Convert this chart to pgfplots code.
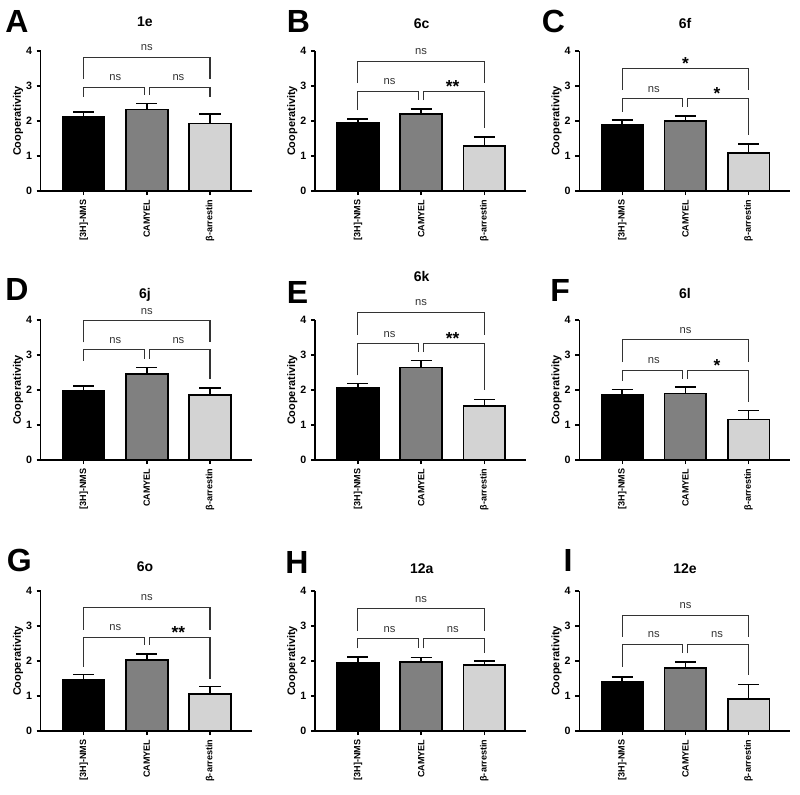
\documentclass[border=0pt]{standalone}
\usepackage{pgfplots}
\pgfplotsset{compat=1.18}
\usepackage{fontspec}
\setmainfont{Liberation Sans}
\definecolor{cgray}{HTML}{808080}
\definecolor{clight}{HTML}{D3D3D3}
\definecolor{brk}{HTML}{333333}
\pgfplotsset{
 panel/.style={width=158.25pt,height=105pt,scale only axis,anchor=south west,
  xmin=0.32,xmax=3.66,ymin=0,ymax=4,
  axis x line*=bottom,axis y line*=left,
  axis line style={line width=1.1pt,black},
  xtick={1,2,3},xticklabels={{[3H]-NMS},{CAMYEL},{β-arrestin}},
  ytick={0,1,2,3,4},
  tick align=outside,major tick length=3pt,
  tick style={line width=1.1pt,black},
  xticklabel style={rotate=90,anchor=east,font=\bfseries\fontsize{6.8}{7}\selectfont},
  yticklabel style={font=\bfseries\fontsize{8}{8}\selectfont},
  /pgf/number format/assume math mode=true,
  ylabel={Cooperativity},
  every axis y label/.style={at={(axis description cs:-0.1075,0.5)},rotate=90,anchor=center,font=\bfseries\fontsize{8.2}{9}\selectfont},
  clip=false},
 bar/.style={ybar,bar width=0.66,draw=black,line width=1.3pt,
  error bars/y dir=plus,error bars/y explicit,
  error bars/error bar style={line width=1.2pt,black},
  error bars/error mark options={rotate=90,mark size=7.9pt,line width=1.2pt,black}},
 bracket/.style={line width=0.8pt,brk,mark=none},
}
\tikzset{
 nslab/.style={anchor=base,yshift=5pt,font=\fontsize{8.4}{9}\selectfont,text=brk},
 astlab/.style={anchor=base,yshift=-0.5pt,font=\bfseries\fontsize{13}{13}\selectfont,text=black},
 ttl/.style={anchor=base,font=\bfseries\fontsize{10.5}{12}\selectfont},
 let/.style={anchor=base west,font=\bfseries\fontsize{24}{26}\selectfont,inner sep=0pt},
}
% T, Tl, L, a, b, d
\newcommand{\brk}[6]{%
 \addplot[bracket] coordinates {(1,#2)(1,#1)(3,#1)(3,#2)};
 \addplot[bracket] coordinates {(1,#4)(1,#3)(1.96,#3)(1.96,#5)};
 \addplot[bracket] coordinates {(2.04,#5)(2.04,#3)(3,#3)(3,#6)};
}
\newcommand{\nsl}[2]{\node[nslab] at (axis cs:#1,#2) {ns};}
\newcommand{\astl}[3]{\node[astlab] at (axis cs:#1,#2) {#3};}
\begin{document}
\begin{tikzpicture}
\path[use as bounding box] (0pt,0pt) rectangle (600pt,-596.25pt);

% A 1e
\begin{axis}[panel,at={(30.525pt,-143.25pt)}]
\addplot[fill=black,bar] coordinates {(1,2.12) +- (0,0.13)};
\addplot[fill=cgray,bar] coordinates {(2,2.33) +- (0,0.17)};
\addplot[fill=clight,bar] coordinates {(3,1.93) +- (0,0.27)};
\brk{3.82}{3.20}{2.96}{2.70}{2.74}{2.70}
\nsl{2}{3.82}\nsl{1.5}{2.96}\nsl{2.5}{2.96}
\end{axis}

% B 6c
\begin{axis}[panel,at={(236.25pt,-143.25pt)}]
\addplot[fill=black,bar] coordinates {(1,1.95) +- (0,0.11)};
\addplot[fill=cgray,bar] coordinates {(2,2.20) +- (0,0.14)};
\addplot[fill=clight,bar] coordinates {(3,1.29) +- (0,0.25)};
\brk{3.71}{3.08}{2.84}{2.31}{2.60}{1.79}
\nsl{2}{3.71}\nsl{1.5}{2.84}\astl{2.5}{2.84}{**}
\end{axis}

% C 6f
\begin{axis}[panel,at={(434.475pt,-143.25pt)}]
\addplot[fill=black,bar] coordinates {(1,1.90) +- (0,0.13)};
\addplot[fill=cgray,bar] coordinates {(2,2.00) +- (0,0.15)};
\addplot[fill=clight,bar] coordinates {(3,1.08) +- (0,0.26)};
\brk{3.49}{2.89}{2.63}{2.27}{2.41}{1.60}
\astl{2}{3.49}{*}\nsl{1.5}{2.63}\astl{2.5}{2.63}{*}
\end{axis}

% D 6j
\begin{axis}[panel,at={(30.525pt,-345pt)}]
\addplot[fill=black,bar] coordinates {(1,1.97) +- (0,0.14)};
\addplot[fill=cgray,bar] coordinates {(2,2.45) +- (0,0.19)};
\addplot[fill=clight,bar] coordinates {(3,1.85) +- (0,0.21)};
\brk{3.98}{3.36}{3.15}{2.84}{2.89}{2.32}
\nsl{2}{3.98}\nsl{1.5}{3.15}\nsl{2.5}{3.15}
\end{axis}

% E 6k
\begin{axis}[panel,at={(236.25pt,-345pt)}]
\addplot[fill=black,bar] coordinates {(1,2.05) +- (0,0.14)};
\addplot[fill=cgray,bar] coordinates {(2,2.64) +- (0,0.20)};
\addplot[fill=clight,bar] coordinates {(3,1.54) +- (0,0.19)};
\brk{4.22}{3.58}{3.32}{2.42}{3.08}{1.99}
\nsl{2}{4.22}\nsl{1.5}{3.32}\astl{2.5}{3.32}{**}
\end{axis}

% F 6l
\begin{axis}[panel,at={(434.475pt,-345pt)}]
\addplot[fill=black,bar] coordinates {(1,1.86) +- (0,0.16)};
\addplot[fill=cgray,bar] coordinates {(2,1.90) +- (0,0.18)};
\addplot[fill=clight,bar] coordinates {(3,1.16) +- (0,0.25)};
\brk{3.43}{2.80}{2.56}{2.27}{2.32}{1.66}
\nsl{2}{3.43}\nsl{1.5}{2.56}\astl{2.5}{2.56}{*}
\end{axis}

% G 6o
\begin{axis}[panel,at={(30.525pt,-548.25pt)}]
\addplot[fill=black,bar] coordinates {(1,1.46) +- (0,0.15)};
\addplot[fill=cgray,bar] coordinates {(2,2.02) +- (0,0.18)};
\addplot[fill=clight,bar] coordinates {(3,1.05) +- (0,0.22)};
\brk{3.53}{2.89}{2.67}{1.84}{2.46}{1.50}
\nsl{2}{3.53}\nsl{1.5}{2.67}\astl{2.5}{2.67}{**}
\end{axis}

% H 12a
\begin{axis}[panel,at={(236.25pt,-548.25pt)}]
\addplot[fill=black,bar] coordinates {(1,1.95) +- (0,0.17)};
\addplot[fill=cgray,bar] coordinates {(2,1.97) +- (0,0.13)};
\addplot[fill=clight,bar] coordinates {(3,1.89) +- (0,0.11)};
\brk{3.49}{2.86}{2.63}{2.36}{2.36}{2.22}
\nsl{2}{3.49}\nsl{1.5}{2.63}\nsl{2.5}{2.63}
\end{axis}

% I 12e
\begin{axis}[panel,at={(434.475pt,-548.25pt)}]
\addplot[fill=black,bar] coordinates {(1,1.41) +- (0,0.14)};
\addplot[fill=cgray,bar] coordinates {(2,1.81) +- (0,0.17)};
\addplot[fill=clight,bar] coordinates {(3,0.91) +- (0,0.42)};
\brk{3.31}{2.70}{2.48}{1.84}{2.22}{1.60}
\nsl{2}{3.31}\nsl{1.5}{2.48}\nsl{2.5}{2.48}
\end{axis}

\begin{scope}[x=0.75pt,y=-0.75pt]
\node[ttl] at (145,26.7) {1e};
\node[ttl] at (421.7,28.3) {6c};
\node[ttl] at (685,28.3) {6f};
\node[ttl] at (145,298.3) {6j};
\node[ttl] at (421.7,281.7) {6k};
\node[ttl] at (685,298.3) {6l};
\node[ttl] at (145,571.7) {6o};
\node[ttl] at (421.7,573.3) {12a};
\node[ttl] at (685,573.3) {12e};
\node[let] at (5,33) {A};
\node[let] at (286.7,33) {B};
\node[let] at (541.7,33) {C};
\node[let] at (5,300) {D};
\node[let] at (286.7,303.3) {E};
\node[let] at (550,301.7) {F};
\node[let] at (6.7,571.7) {G};
\node[let] at (285,573.3) {H};
\node[let] at (563.3,571.7) {I};
\end{scope}
\end{tikzpicture}
\end{document}
